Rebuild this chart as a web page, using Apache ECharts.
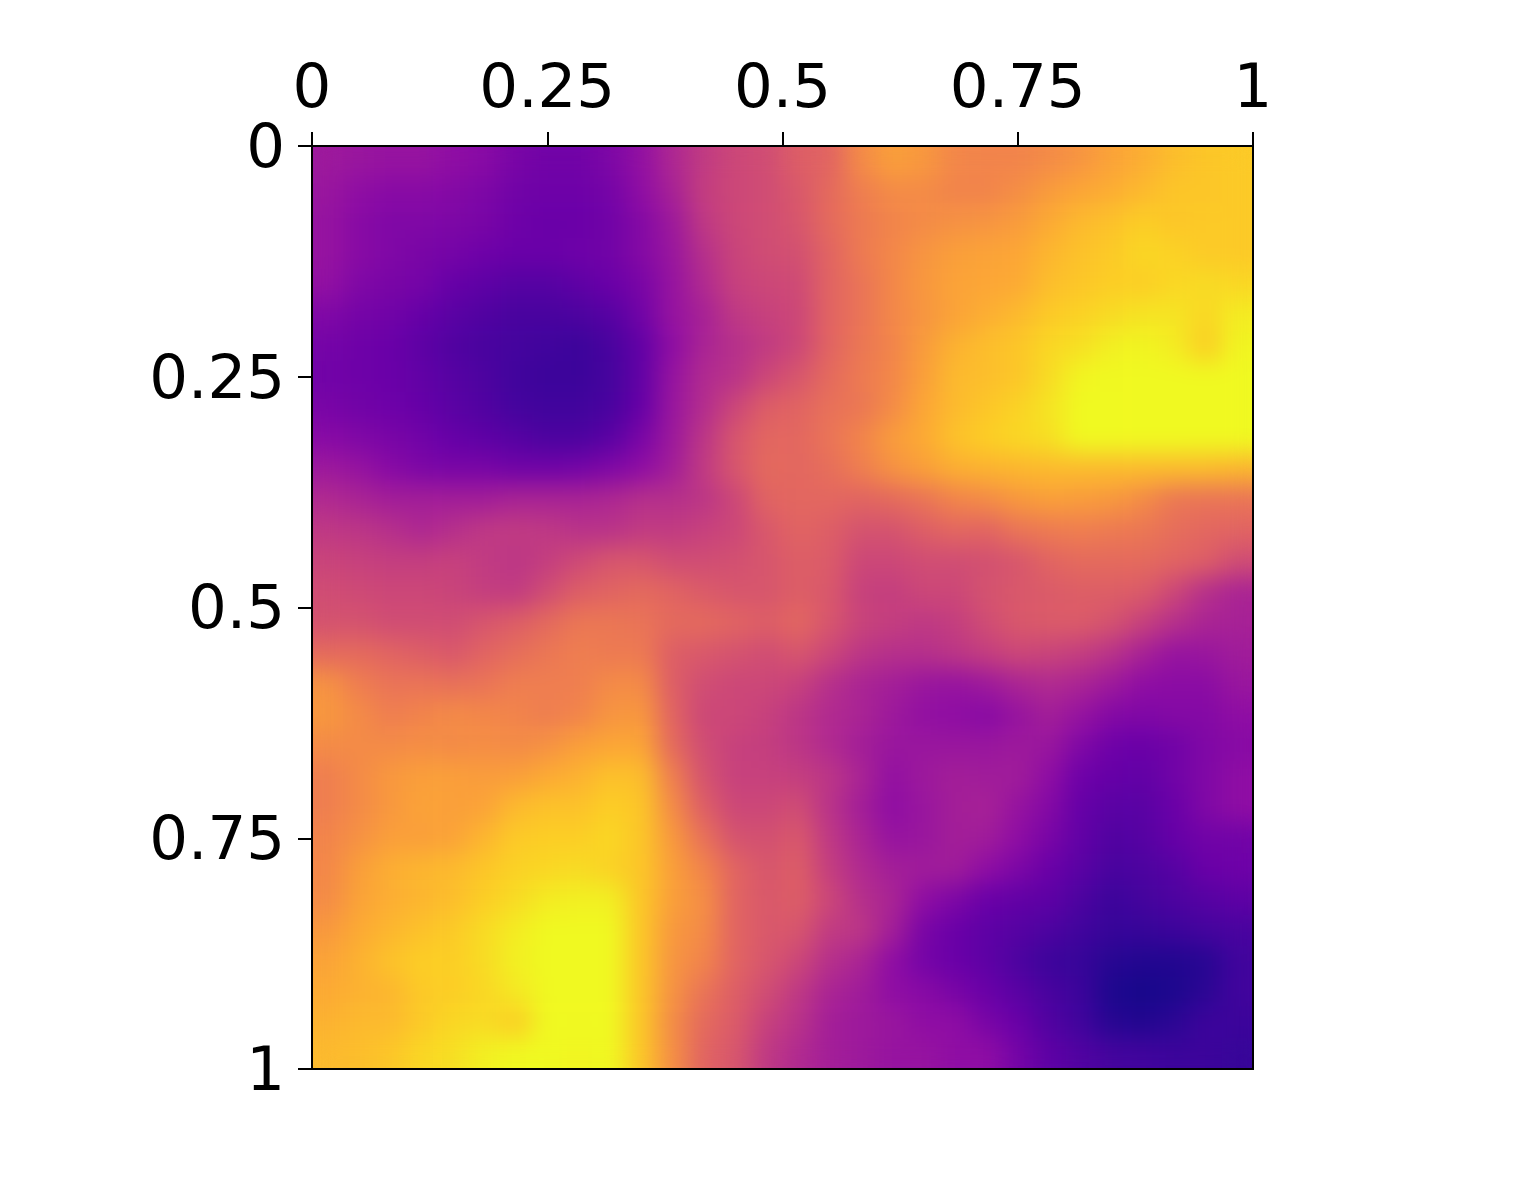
<!DOCTYPE html>
<html>
<head>
<meta charset="utf-8">
<style>
html,body{margin:0;padding:0;background:#fff;width:1535px;height:1184px;overflow:hidden}
#clip{position:absolute;left:312px;top:146px;width:941px;height:923px;overflow:hidden}
#heat{position:absolute;left:0;top:0;width:941px;height:923px;filter:url(#smooth)}
#axes{position:absolute;left:0;top:0;width:1535px;height:1184px;filter:blur(0.6px)}
</style>
<script src="https://cdn.jsdelivr.net/npm/echarts@6/dist/echarts.min.js"></script>
</head>
<body>
<svg width="0" height="0" style="position:absolute">
  <filter id="smooth" x="-5%" y="-5%" width="110%" height="110%" color-interpolation-filters="sRGB">
    <feGaussianBlur stdDeviation="12"/>
    <feComponentTransfer><feFuncA type="linear" slope="1000"/></feComponentTransfer>
  </filter>
</svg>
<div id="clip"><div id="heat"></div></div>
<div id="axes"></div>
<script>
const tickValues = [0, 0.25, 0.5, 0.75, 1];
const plasmaStops = ['#0d0887','#41049d','#6a00a8','#8f0da4','#b12a90','#cc4778','#e16462','#f2844b','#fca636','#fcce25','#f0f921'];
const heatRows = [
[34,33,32,32,30,28,24,22,22,25,31,39,46,50,52,58,60,72,78,76,71,70,70,72,75,79,82,86,88,89],
[33,30,28,28,27,25,22,21,21,23,30,37,47,50,52,56,62,68,72,72,70,70,73,77,80,82,85,88,88,89],
[32,28,26,26,25,24,21,20,20,22,27,34,45,50,52,55,62,67,70,72,74,75,77,81,85,87,90,88,89,89],
[32,28,26,24,23,21,20,20,21,22,27,33,42,49,52,53,60,67,71,75,78,79,80,84,87,89,92,91,89,89],
[31,26,24,23,19,17,15,15,17,20,24,32,40,48,50,51,60,65,71,76,79,80,81,86,88,90,90,92,93,92],
[26,23,22,19,16,14,12,12,13,15,22,32,37,45,48,50,60,65,71,75,79,82,85,89,91,93,95,95,92,97],
[23,21,20,17,14,12,11,10,9,12,18,30,38,42,46,50,60,66,70,77,83,86,88,92,94,98,99,97,90,99],
[22,21,20,18,15,13,10,9,9,11,18,32,40,43,50,55,62,67,71,78,85,86,88,93,99,100,100,100,100,100],
[24,22,21,19,16,14,11,10,10,12,19,33,41,50,58,60,64,66,72,80,85,88,91,95,100,100,100,100,100,100],
[28,26,24,22,19,17,15,13,13,16,24,34,44,55,61,61,65,70,77,81,87,90,92,94,100,100,100,100,100,100],
[34,32,28,25,24,24,22,22,23,26,30,36,46,55,62,61,63,68,74,78,82,83,84,85,85,85,85,85,85,84],
[40,38,36,36,36,36,38,38,38,39,42,42,44,50,60,61,61,60,62,65,70,72,76,78,77,76,72,66,65,65],
[45,44,42,39,42,45,46,45,43,43,46,46,48,50,56,60,58,54,54,58,61,60,65,67,68,67,66,63,61,60],
[49,48,47,47,48,46,44,47,51,55,55,52,52,53,55,58,57,50,50,52,52,53,55,60,62,62,62,60,58,52],
[52,51,50,50,49,47,46,52,58,60,62,60,57,55,55,58,56,48,47,50,50,54,56,57,58,58,57,50,42,38],
[54,54,52,52,52,55,58,62,66,66,65,62,62,60,58,61,55,49,47,45,47,52,56,57,57,54,48,42,38,37],
[62,62,60,58,56,60,63,66,68,67,67,58,56,54,52,55,50,44,42,42,44,47,50,49,47,43,37,32,33,35],
[74,68,65,65,64,65,68,68,68,72,72,58,52,50,50,48,42,38,36,33,32,34,38,40,38,34,30,29,29,33],
[76,72,68,70,72,71,70,68,70,75,76,60,50,50,48,44,40,38,34,31,30,28,32,36,32,27,26,27,27,30],
[72,72,72,73,72,73,72,74,78,80,80,62,52,48,47,44,40,36,33,33,33,33,34,33,26,21,20,22,26,28],
[68,72,76,78,78,77,78,81,83,87,86,68,54,48,48,47,44,38,31,34,36,35,35,30,21,19,18,22,26,30],
[68,72,76,79,78,79,85,87,87,90,88,72,58,50,50,52,43,36,30,33,36,37,32,27,19,16,16,20,26,30],
[70,74,78,78,79,84,89,90,90,92,88,76,64,54,53,56,45,38,32,33,36,35,30,24,18,14,15,19,22,22],
[71,78,82,84,85,88,91,92,93,91,88,78,70,60,55,58,47,40,36,35,35,30,25,20,16,12,13,15,20,21],
[72,79,82,84,86,90,93,97,98,98,88,78,73,60,56,58,50,42,38,30,25,20,18,17,13,9,11,13,15,17],
[76,81,84,87,89,93,97,100,100,100,88,76,72,60,56,55,46,44,36,24,20,17,15,13,10,8,8,9,11,12],
[79,83,87,90,90,93,98,100,100,100,88,75,70,60,55,50,42,38,30,23,20,17,13,9,8,5,4,4,5,10],
[81,83,84,89,90,92,96,100,100,100,88,74,65,58,52,45,38,35,30,28,24,20,16,12,9,3,2,3,6,10],
[83,85,85,89,92,93,90,100,100,100,88,72,62,57,48,43,36,34,33,30,30,24,20,14,10,5,4,6,9,9],
[85,86,88,92,94,98,100,100,99,100,88,73,60,55,45,40,36,34,32,32,30,30,23,17,14,11,10,9,9,8]
];
const cellTriples = [];
heatRows.forEach((row, y) => row.forEach((v, x) => cellTriples.push([x, y, v])));
const indexCats = heatRows.map((_, i) => i);

const heat = echarts.init(document.getElementById('heat'));
heat.setOption({
  animation: false,
  grid: {left: 0, right: 0, top: 0, bottom: 0},
  xAxis: {type: 'category', data: indexCats, show: false},
  yAxis: {type: 'category', data: indexCats, inverse: true, show: false},
  visualMap: {show: false, min: 0, max: 100, dimension: 2, inRange: {color: plasmaStops}},
  series: [{type: 'heatmap', data: cellTriples, progressive: 0, itemStyle: {borderWidth: 0}}]
});

const axisFont = {fontFamily: 'DejaVu Sans', fontSize: 61, color: '#000'};
const axisShared = {
  type: 'value', min: 0, max: 1, interval: 0.25,
  splitLine: {show: false},
  axisLine: {show: true, onZero: false, lineStyle: {color: '#000', width: 2}},
  axisTick: {show: true, length: 14, lineStyle: {color: '#000', width: 2}}
};
const axes = echarts.init(document.getElementById('axes'));
axes.setOption({
  animation: false,
  grid: {left: 312, top: 146, width: 941, height: 923, show: true, backgroundColor: 'transparent', borderColor: '#000', borderWidth: 2},
  xAxis: Object.assign({}, axisShared, {position: 'top', axisLabel: Object.assign({margin: 24, hideOverlap: false}, axisFont)}),
  yAxis: Object.assign({}, axisShared, {inverse: true, axisLabel: Object.assign({margin: 27, hideOverlap: false, verticalAlign: 'top', lineHeight: 10}, axisFont)}),
  series: []
});
</script>
</body>
</html>
